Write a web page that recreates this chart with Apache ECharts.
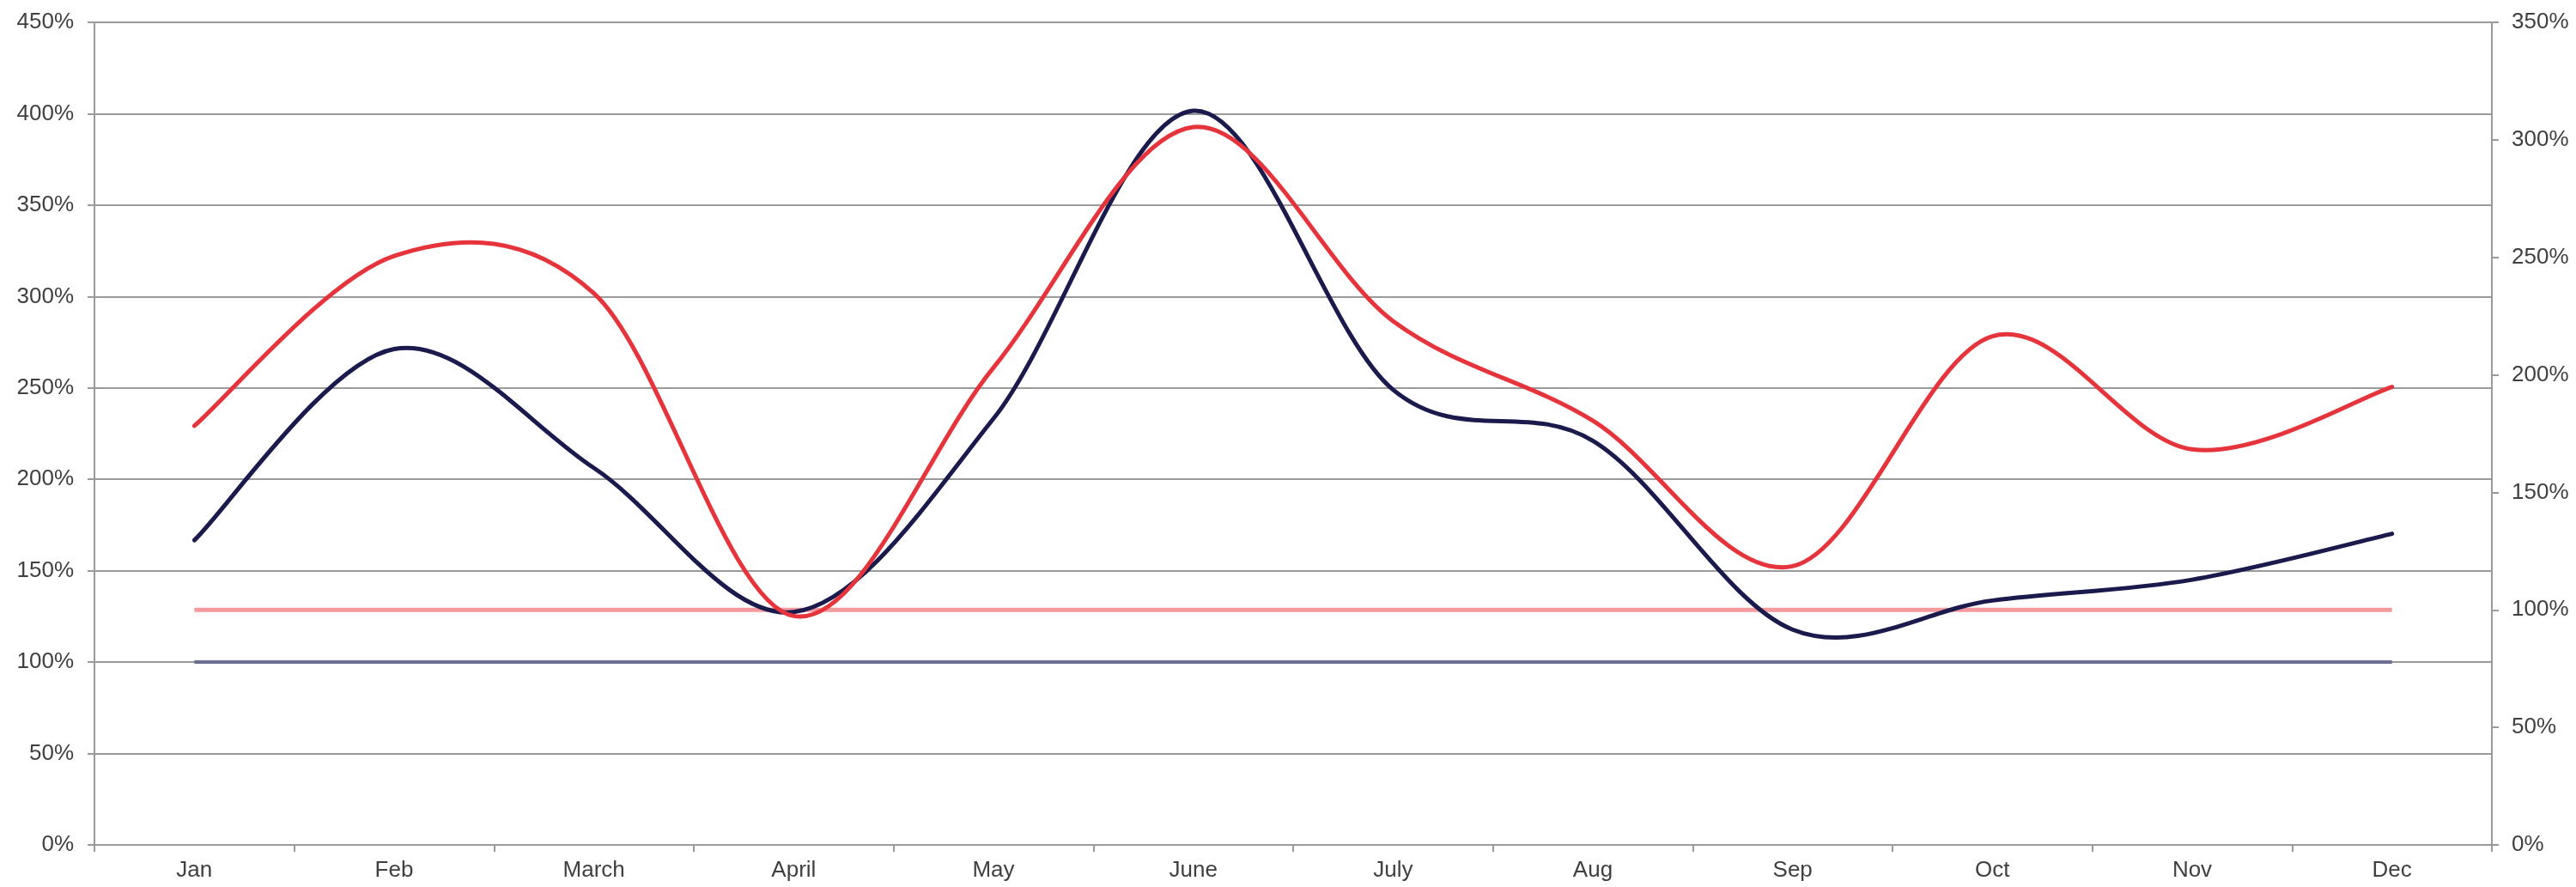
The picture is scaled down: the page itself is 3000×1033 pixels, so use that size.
<!DOCTYPE html>
<html>
<head>
<meta charset="utf-8">
<script src="https://cdn.jsdelivr.net/npm/echarts@6/dist/echarts.min.js"></script>
<style>
html,body{margin:0;padding:0;background:#fff;}
#chart{width:3000px;height:1033px;}
</style>
</head>
<body>
<div id="chart"></div>
<script>
var categories = ['Jan','Feb','March','April','May','June','July','Aug','Sep','Oct','Nov','Dec'];
var navySeries = [166.7, 271.3, 206.2, 127.4, 233.2, 401.6, 249, 221.1, 117.8, 133.7, 145.1, 170.2];
var redSeries = [178.3, 250.6, 234.7, 97.4, 203.1, 305.4, 222.9, 180.5, 118.6, 216.4, 168.3, 194.9];
var navyBaseline = [100,100,100,100,100,100,100,100,100,100,100,100];
var redBaseline = [100,100,100,100,100,100,100,100,100,100,100,100];
var leftAxis = {min: 0, max: 450, interval: 50};
var rightAxis = {min: 0, max: 350, interval: 50};

// Smooth curve (Catmull-Rom style, like spreadsheet "smoothed line") built from
// the data points projected through the chart's own axes via api.coord.
function smoothRenderer(values, color, width) {
  return function (params, api) {
    if (params.dataIndex !== 0) return null;
    var pts = values.map(function (v, i) { return api.coord([i, v]); });
    var n = pts.length;
    var d = 'M' + pts[0][0] + ' ' + pts[0][1];
    for (var i = 0; i < n - 1; i++) {
      var p0 = pts[Math.max(i - 1, 0)], p1 = pts[i], p2 = pts[i + 1], p3 = pts[Math.min(i + 2, n - 1)];
      var c1x = p1[0] + (p2[0] - p0[0]) / 6, c1y = p1[1] + (p2[1] - p0[1]) / 6;
      var c2x = p2[0] - (p3[0] - p1[0]) / 6, c2y = p2[1] - (p3[1] - p1[1]) / 6;
      d += ' C' + c1x + ' ' + c1y + ' ' + c2x + ' ' + c2y + ' ' + p2[0] + ' ' + p2[1];
    }
    return {
      type: 'path',
      shape: {pathData: d},
      style: {fill: null, stroke: color, lineWidth: width, lineCap: 'round', lineJoin: 'round'}
    };
  };
}

var chart = echarts.init(document.getElementById('chart'));
var labelStyle = {color: '#404040', fontSize: 26, fontFamily: 'Liberation Sans, Arial, sans-serif'};
chart.setOption({
  animation: false,
  grid: {left: 110, right: 98, top: 26, bottom: 49, containLabel: false},
  xAxis: {
    type: 'category',
    data: categories,
    boundaryGap: true,
    axisLine: {lineStyle: {color: '#9a9a9a', width: 2}},
    axisTick: {show: true, length: 8, lineStyle: {color: '#9a9a9a', width: 2}},
    axisLabel: Object.assign({margin: 17}, labelStyle),
    splitLine: {show: false}
  },
  yAxis: [
    {
      type: 'value', min: leftAxis.min, max: leftAxis.max, interval: leftAxis.interval,
      position: 'left',
      axisLine: {show: true, lineStyle: {color: '#9a9a9a', width: 2}},
      axisTick: {show: true, length: 8, lineStyle: {color: '#9a9a9a', width: 2}},
      axisLabel: Object.assign({margin: 24, formatter: '{value}%'}, labelStyle),
      splitLine: {show: true, lineStyle: {color: '#9a9a9a', width: 2}}
    },
    {
      type: 'value', min: rightAxis.min, max: rightAxis.max, interval: rightAxis.interval,
      position: 'right',
      axisLine: {show: true, lineStyle: {color: '#9a9a9a', width: 2}},
      axisTick: {show: true, length: 8, lineStyle: {color: '#9a9a9a', width: 2}},
      axisLabel: Object.assign({margin: 23, formatter: '{value}%'}, labelStyle),
      splitLine: {show: false}
    }
  ],
  series: [
    {type: 'line', yAxisIndex: 0, data: navyBaseline, symbol: 'none',
     lineStyle: {color: '#6b6d93', width: 4}, z: 2},
    {type: 'line', yAxisIndex: 1, data: redBaseline, symbol: 'none',
     lineStyle: {color: '#f4999e', width: 5}, z: 2},
    {type: 'custom', yAxisIndex: 0, z: 3,
     data: navySeries.map(function (v, i) { return [i, v]; }),
     encode: {x: 0, y: 1},
     renderItem: smoothRenderer(navySeries, '#1b1a4d', 5)},
    {type: 'custom', yAxisIndex: 1, z: 4,
     data: redSeries.map(function (v, i) { return [i, v]; }),
     encode: {x: 0, y: 1},
     renderItem: smoothRenderer(redSeries, '#e5343b', 5)}
  ]
});
</script>
</body>
</html>
